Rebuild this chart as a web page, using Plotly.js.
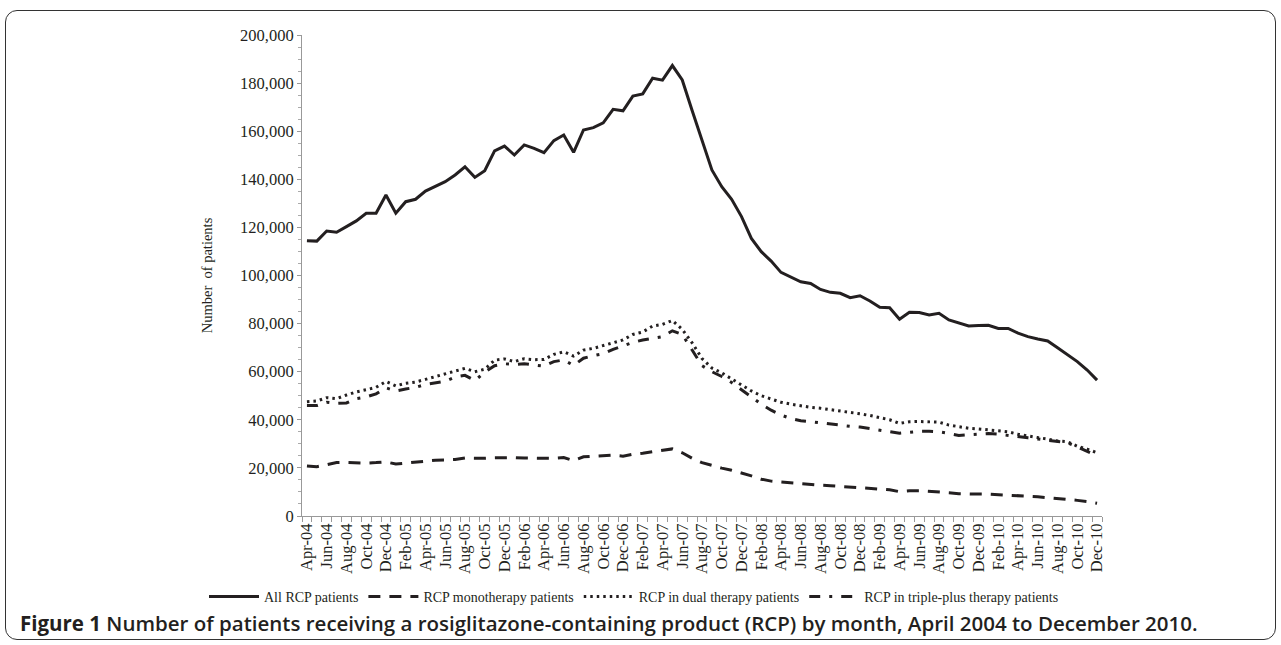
<!DOCTYPE html>
<html>
<head>
<meta charset="utf-8">
<script src="https://cdn.plot.ly/plotly-3.0.1.min.js"></script>
<style>
  html, body { margin: 0; padding: 0; background: #fff; }
  #wrap { position: relative; width: 1281px; height: 645px; }
  #chart { width: 1281px; height: 645px; }
  #frame { position: absolute; left: 5px; top: 10px; width: 1269px; height: 628px;
           border: 1.5px solid #333; border-radius: 12px; pointer-events: none; }
</style>
</head>
<body>
<div id="wrap"><div id="chart"></div><div id="frame"></div></div>
<script>
const months = [
  'Apr-04','May-04','Jun-04','Jul-04','Aug-04','Sep-04','Oct-04','Nov-04','Dec-04',
  'Jan-05','Feb-05','Mar-05','Apr-05','May-05','Jun-05','Jul-05','Aug-05','Sep-05','Oct-05','Nov-05','Dec-05',
  'Jan-06','Feb-06','Mar-06','Apr-06','May-06','Jun-06','Jul-06','Aug-06','Sep-06','Oct-06','Nov-06','Dec-06',
  'Jan-07','Feb-07','Mar-07','Apr-07','May-07','Jun-07','Jul-07','Aug-07','Sep-07','Oct-07','Nov-07','Dec-07',
  'Jan-08','Feb-08','Mar-08','Apr-08','May-08','Jun-08','Jul-08','Aug-08','Sep-08','Oct-08','Nov-08','Dec-08',
  'Jan-09','Feb-09','Mar-09','Apr-09','May-09','Jun-09','Jul-09','Aug-09','Sep-09','Oct-09','Nov-09','Dec-09',
  'Jan-10','Feb-10','Mar-10','Apr-10','May-10','Jun-10','Jul-10','Aug-10','Sep-10','Oct-10','Nov-10','Dec-10'
];

const allRCP = [
  114500,114300,118500,118000,120300,122700,125900,125900,133500,
  125900,130700,131700,135100,136900,139000,141800,145200,140800,143600,151800,153800,
  150100,154300,152900,151100,156100,158400,151200,160500,161500,163500,169100,168500,
  174600,175500,182000,181200,187300,181300,168600,156200,143900,136900,131700,124500,
  115400,109900,106000,101300,99500,97400,96700,94200,93000,92600,90800,91600,
  89400,86800,86600,81800,84700,84600,83600,84300,81500,80100,79000,79200,
  79300,78000,78000,76000,74600,73600,72800,70000,67200,64200,60700,56500
];

const mono = [
  20800,20500,21300,22200,22300,22000,22000,22200,22500,
  21600,21900,22300,22800,23200,23300,23500,24100,24000,24000,24200,24400,
  24300,24100,24000,24100,24000,24300,23000,24600,24800,25000,25300,24900,
  25700,26100,26700,27300,27900,26300,24000,22200,20900,19900,19000,17900,
  16700,15300,14500,14100,13700,13300,13100,12800,12600,12300,12000,11800,
  11600,11300,10900,10100,10500,10500,10300,10100,9700,9300,9100,9100,
  9100,8800,8600,8400,8200,8000,7700,7400,7000,6500,6000,5300
];

const dual = [
  47500,47800,49200,48800,50300,51600,52500,53500,55900,
  54100,55200,55700,56800,57900,59200,60400,61400,60000,61000,64800,65300,
  64200,65400,65000,65100,67200,68300,66500,69000,69700,70800,72200,73200,
  75500,76500,79000,79700,81300,77600,72000,65500,61500,59500,57000,54500,
  52000,50000,48500,47300,46500,45800,45200,44800,44300,43800,43000,42500,
  41800,40800,40000,38500,39200,39300,39000,39000,37800,37000,36500,36200,
  35800,35300,35000,34000,33200,32600,32000,31200,30900,29000,27800,26300
];

const triple = [
  45900,45900,47300,46800,47000,48800,49500,50800,53300,
  52000,52800,53500,54700,55500,56000,57800,58500,56300,59800,62500,63300,
  63000,63300,62800,62300,64200,64900,62600,65600,66700,67500,69300,70700,
  72200,73200,73900,74600,77000,75500,69000,62500,60000,58000,55500,52500,
  49500,46500,44000,42000,40500,39600,39200,38700,38000,37500,37300,37000,
  36300,35700,35000,34400,34800,35200,35200,35000,34300,33500,33800,34200,
  34300,34000,33600,33000,32500,32000,31500,31000,30500,28700,27000,25000
];

const seriesNames = [
  'All RCP patients',
  'RCP monotherapy patients',
  'RCP in dual therapy patients',
  'RCP in triple-plus therapy patients'
];
const tickLabels = months.map((m, i) => (i % 2 === 0 ? m : ''));
const captionBold = 'Figure 1';
const captionText = 'Number of patients receiving a rosiglitazone-containing product (RCP) by month, April 2004 to December 2010.';
const yTitle = 'Number&nbsp; of patients';

const ink = '#231f20';
const serif = 'Liberation Serif, Times New Roman, serif';

const traces = [
  { x: months, y: allRCP, name: seriesNames[0], type: 'scatter', mode: 'lines',
    line: { color: ink, width: 3 } },
  { x: months, y: mono, name: seriesNames[1], type: 'scatter', mode: 'lines',
    line: { color: ink, width: 3, dash: '12px,9px' } },
  { x: months, y: dual, name: seriesNames[2], type: 'scatter', mode: 'lines',
    line: { color: ink, width: 3, dash: '2.5px,4px' } },
  { x: months, y: triple, name: seriesNames[3], type: 'scatter', mode: 'lines',
    line: { color: ink, width: 3, dash: '11px,9px,3px,9px' } }
];

const layout = {
  width: 1281, height: 645,
  margin: { l: 302, r: 179, t: 35, b: 129 },
  paper_bgcolor: '#ffffff', plot_bgcolor: '#ffffff',
  font: { family: serif, color: ink, size: 15 },
  showlegend: true,
  legend: {
    orientation: 'h', x: -0.1225, xanchor: 'left', y: -0.168, yanchor: 'middle',
    font: { family: serif, size: 14, color: ink }, itemwidth: 50,
    tracegroupgap: 0, bgcolor: 'rgba(0,0,0,0)'
  },
  xaxis: {
    type: 'category', range: [-0.5, 80.5],
    tickmode: 'array', tickvals: months, ticktext: tickLabels,
    tickson: 'boundaries', ticks: 'outside', ticklen: 5, tickwidth: 1, tickcolor: '#999',
    tickangle: -90, tickfont: { family: serif, size: 16.5, color: ink },
    showline: true, linecolor: '#999', linewidth: 1,
    showgrid: false, zeroline: false, fixedrange: true
  },
  yaxis: {
    range: [0, 200000], dtick: 20000, tick0: 0, tickformat: ',d',
    ticks: 'outside', ticklen: 4, tickwidth: 1, tickcolor: '#999',
    minor: { dtick: 5000, ticks: 'outside', ticklen: 3, tickwidth: 1, tickcolor: '#aaa', showgrid: false },
    tickfont: { family: serif, size: 16.5, color: ink },
    showline: true, linecolor: '#999', linewidth: 1,
    showgrid: false, zeroline: false, fixedrange: true,
    title: { text: yTitle, font: { family: serif, size: 14.5, color: ink }, standoff: 24 }
  },
  annotations: [
    { xref: 'paper', yref: 'paper', x: -0.355, y: -0.2225, xanchor: 'left', yanchor: 'middle',
      showarrow: false, align: 'left',
      text: '<b>' + captionBold + '</b> ' + captionText,
      font: { family: 'Open Sans, Noto Sans, sans-serif', size: 20.5, weight: 600, color: ink } }
  ]
};

Plotly.newPlot('chart', traces, layout, { displayModeBar: false, staticPlot: true });
</script>
</body>
</html>
